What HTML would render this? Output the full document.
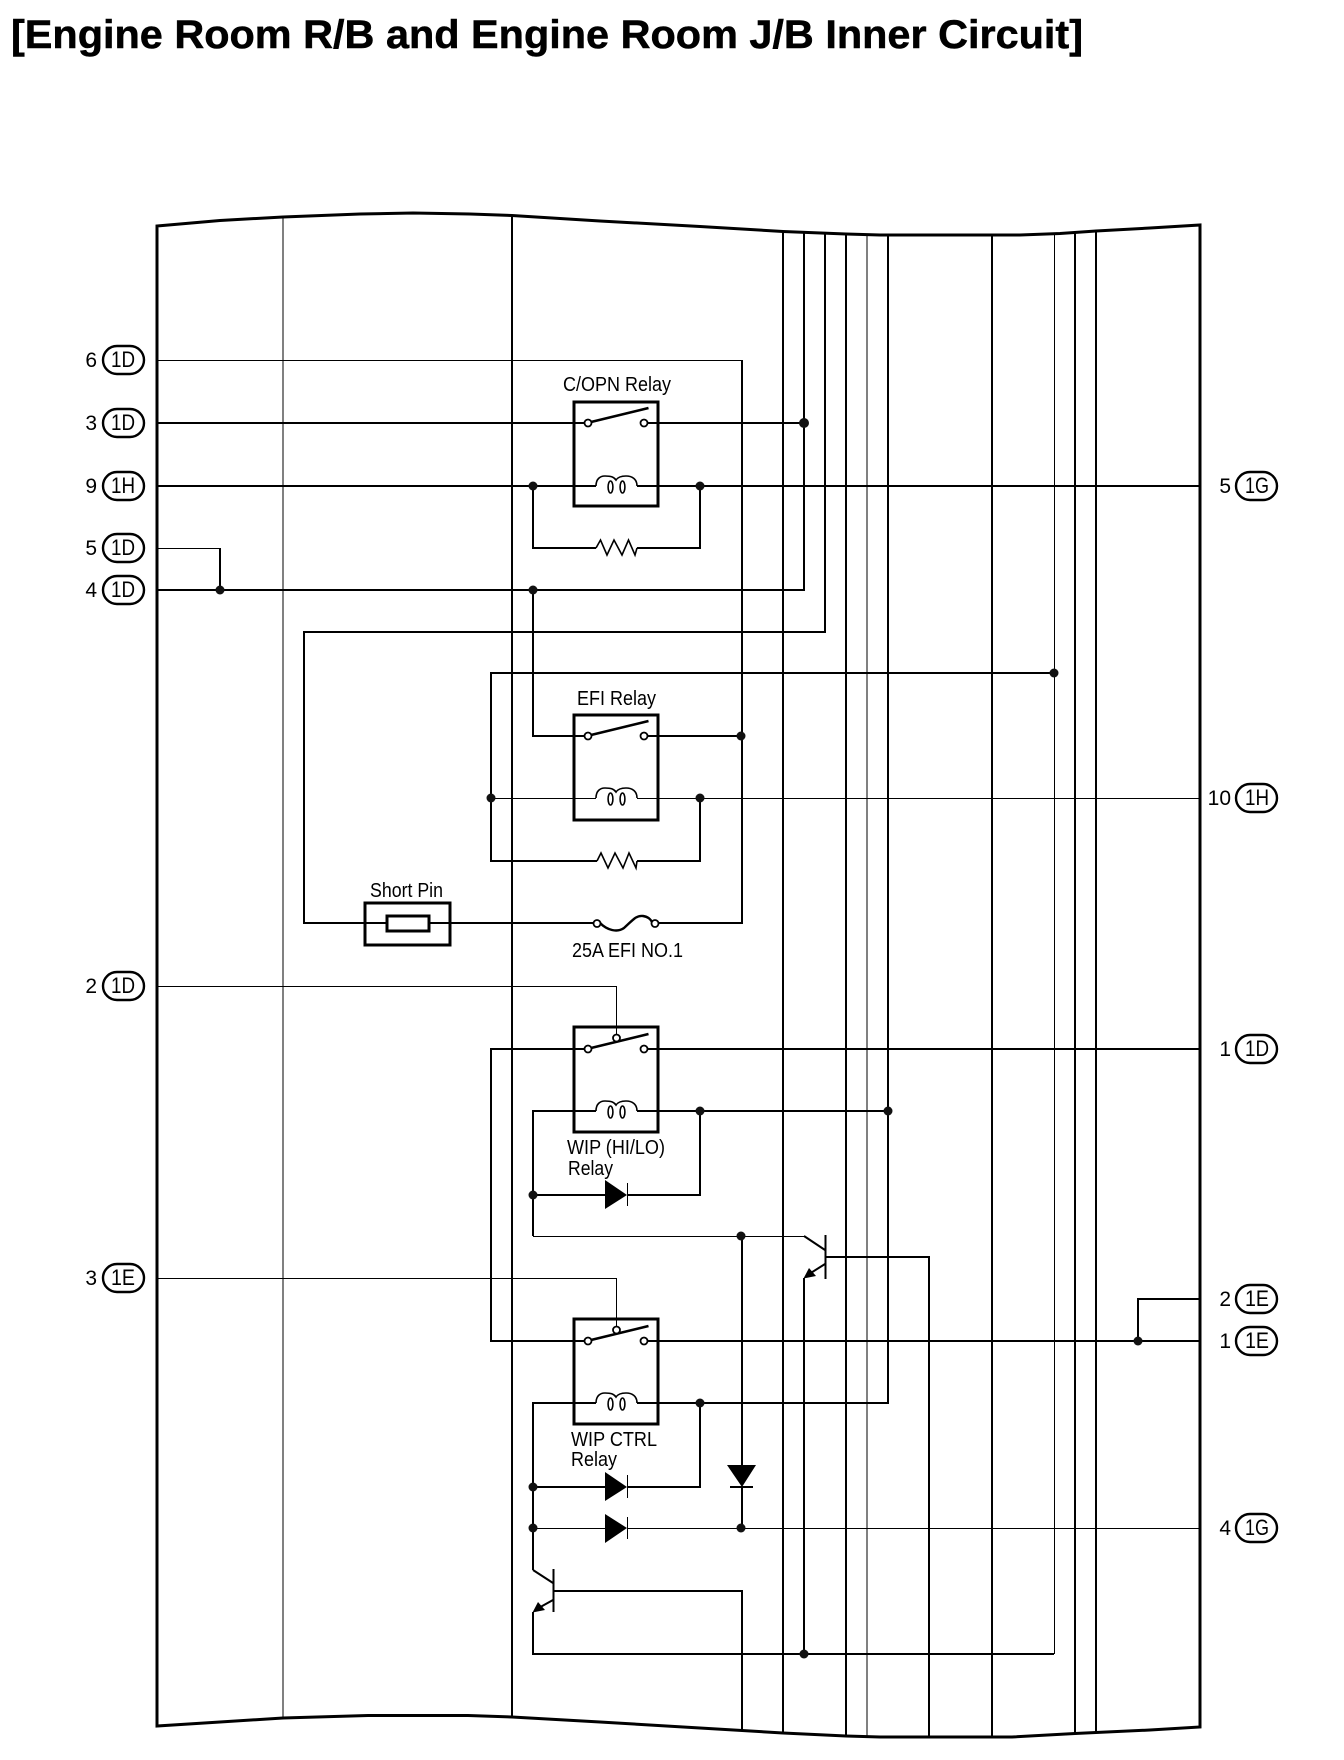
<!DOCTYPE html>
<html lang="en">
<head>
<meta charset="utf-8">
<title>Engine Room R/B and Engine Room J/B Inner Circuit</title>
<style>
html,body{margin:0;padding:0;background:#fff;width:1344px;height:1760px;overflow:hidden}
svg{display:block}
text{font-family:"Liberation Sans",sans-serif;fill:#000}
.w{fill:none;stroke:#000;stroke-width:2;shape-rendering:crispEdges}
.t{fill:none;stroke:#000;stroke-width:1;shape-rendering:crispEdges}
.b{fill:none;stroke:#000;stroke-width:3}
.r{fill:#fff;stroke:#000;stroke-width:3.2;shape-rendering:crispEdges}
.c{fill:#fff;stroke:#000;stroke-width:1.8}
.n{fill:#111;stroke:none}
.s{fill:none;stroke:#000;stroke-width:1.6}
.p{fill:#fff;stroke:#000;stroke-width:2.4}
.a{fill:none;stroke:#000;stroke-width:2.6}
.f{fill:#000;stroke:none}
.lb{font-size:20px}
.d{font-size:21px}
text[textLength="24"]{font-size:22px}
</style>
</head>
<body>
<svg width="1344" height="1760" viewBox="0 0 1344 1760" xmlns="http://www.w3.org/2000/svg">
<rect width="1344" height="1760" fill="#fff"/>
<text x="11" y="48" font-size="40" font-weight="700" stroke="#000" stroke-width="0.5" textLength="1072" lengthAdjust="spacingAndGlyphs" style="letter-spacing:0">[Engine Room R/B and Engine Room J/B Inner Circuit]</text>

<!-- frame -->
<path class="b" d="M157 1726 L157 226 L220 220.500 L283 217 L360 214 L413 213 L470 214 L512 215.500 L600 221 L700 226.500 L783 231.500 L846 234 L880 235 L1020 235 L1060 233.500 L1096 231 L1150 228 L1200 225 L1200 1727 L1150 1730 L1096 1732.500 L1075 1733.500 L1012 1737 L880 1737 L846 1736 L783 1733 L700 1728 L600 1722 L512 1717 L468 1715.500 L368 1715.500 L283 1718 L220 1722 Z"/>

<!-- vertical bus lines -->
<path class="t" d="M283 217V1718"/>
<path class="w" d="M512 215V1717"/>
<path class="w" d="M783 231V1733"/>
<path class="w" d="M804 232V590H157"/>
<path class="w" d="M825 233V632H304V923H387"/>
<path class="w" d="M846 234V1736"/>
<path class="t" d="M867 235V1737"/>
<path class="w" d="M888 235V1403H637"/>
<path class="w" d="M992 235V1737"/>
<path class="t" d="M1054.500 235V1654"/>
<path class="w" d="M1075 233V1733"/>
<path class="w" d="M1096 231V1732"/>

<!-- signal wires -->
<path class="t" d="M157 360.500H742"/>
<path class="w" d="M742 360V923H658"/>
<path class="w" d="M157 423H585M648 423H804"/>
<path class="w" d="M157 486H596M637 486H1200"/>
<path class="w" d="M533 486V548H596M637 548H700V486"/>
<path class="t" d="M157 548.500H220"/>
<path class="w" d="M220 548V590"/>
<path class="w" d="M533 590V736H585M648 736H742"/>
<path class="w" d="M1054 673H491V861H597M637 861H700V798"/>
<path class="t" d="M491 798.500H596M637 798.500H1200"/>
<path class="w" d="M429 923H594"/>
<path class="t" d="M157 986.500H616.500V1034"/>
<path class="w" d="M585 1049H491V1341H585M648 1049H1200M648 1341H1200"/>
<path class="w" d="M596 1111H533V1236"/>
<path class="w" d="M637 1111H888"/>
<path class="w" d="M700 1111V1195H627M533 1195H605"/>
<path class="t" d="M533 1236.500H804"/>
<path class="w" d="M742 1236V1465"/>
<path class="w" d="M826 1257H929V1737"/>
<path class="w" d="M804 1278V1654"/>
<path class="t" d="M157 1278.500H616.500V1326"/>
<path class="w" d="M1138 1341V1299H1200"/>
<path class="w" d="M596 1403H533V1570"/>
<path class="w" d="M637 1403H700V1487H627M533 1487H605"/>
<path class="t" d="M533 1528.500H605M627 1528.500H1200"/>
<path class="w" d="M742 1487V1528"/>
<path class="w" d="M554 1591H742V1731"/>
<path class="w" d="M533 1612V1654H1054"/>

<!-- relay 1 C/OPN -->
<rect class="r" x="574" y="402" width="84" height="104" style="fill:none"/>
<line class="a" x1="591" y1="422" x2="648.500" y2="408"/>
<circle class="c" cx="588" cy="423" r="3.500"/><circle class="c" cx="644" cy="423" r="3.500"/>
<path class="s" d="M596 486C596 479 600 476 605 476C611 476 614 477 616 480C618 477 621 476 626 476C632 476 637 479 637 486"/>
<ellipse class="s" cx="610.500" cy="487" rx="2.400" ry="6" fill="#fff"/><ellipse class="s" cx="622.500" cy="487" rx="2.400" ry="6" fill="#fff"/>
<path class="s" d="M596 548L600.500 540L607 555L614 540L622 555L628.500 540L635 555L637 548"/>

<!-- relay 2 EFI -->
<rect class="r" x="574" y="715" width="84" height="105" style="fill:none"/>
<line class="a" x1="591" y1="735" x2="648.500" y2="721"/>
<circle class="c" cx="588" cy="736" r="3.500"/><circle class="c" cx="644" cy="736" r="3.500"/>
<path class="s" d="M596 798C596 791 600 788 605 788C611 788 614 789 616 792C618 789 621 788 626 788C632 788 637 791 637 798"/>
<ellipse class="s" cx="610.500" cy="799" rx="2.400" ry="6" fill="#fff"/><ellipse class="s" cx="622.500" cy="799" rx="2.400" ry="6" fill="#fff"/>
<path class="s" d="M597 861L601 853L608 868L615 853L623 868L629 853L636 868L637 861"/>

<!-- short pin and fuse -->
<rect class="r" x="365" y="903" width="85" height="42" style="fill:none"/>
<rect class="w" x="387" y="916" width="42" height="15" style="fill:#fff;stroke-width:3"/>
<path d="M600 923C607 930 617 933 624 928C632 921 636 915 643 916C650 917 651 921 653 923" fill="none" stroke="#000" stroke-width="2.400"/>
<circle class="c" cx="597" cy="923.500" r="3.500"/><circle class="c" cx="655" cy="923.500" r="3.500"/>

<!-- relay 3 WIP HI/LO -->
<rect class="r" x="574" y="1027" width="84" height="105" style="fill:none"/>
<line class="a" x1="591" y1="1048" x2="648.500" y2="1034"/>
<circle class="c" cx="588" cy="1049" r="3.500"/><circle class="c" cx="644" cy="1049" r="3.500"/><circle class="c" cx="616.500" cy="1038" r="3.500"/>
<path class="s" d="M596 1111C596 1104 600 1101 605 1101C611 1101 614 1102 616 1105C618 1102 621 1101 626 1101C632 1101 637 1104 637 1111"/>
<ellipse class="s" cx="610.500" cy="1112" rx="2.400" ry="6" fill="#fff"/><ellipse class="s" cx="622.500" cy="1112" rx="2.400" ry="6" fill="#fff"/>
<polygon class="f" points="605,1180 627,1195 605,1209"/><path class="t" d="M627.500 1183V1206"/>

<!-- relay 4 WIP CTRL -->
<rect class="r" x="574" y="1319" width="84" height="105" style="fill:none"/>
<line class="a" x1="591" y1="1340" x2="648.500" y2="1326"/>
<circle class="c" cx="588" cy="1341" r="3.500"/><circle class="c" cx="644" cy="1341" r="3.500"/><circle class="c" cx="616.500" cy="1330" r="3.500"/>
<path class="s" d="M596 1403C596 1396 600 1393 605 1393C611 1393 614 1394 616 1397C618 1394 621 1393 626 1393C632 1393 637 1396 637 1403"/>
<ellipse class="s" cx="610.500" cy="1404" rx="2.400" ry="6" fill="#fff"/><ellipse class="s" cx="622.500" cy="1404" rx="2.400" ry="6" fill="#fff"/>
<polygon class="f" points="605,1472 627,1487 605,1501"/><path class="t" d="M627.500 1475V1498"/>
<polygon class="f" points="605,1514 627,1528 605,1543"/><path class="t" d="M627.500 1517V1539"/>
<polygon class="f" points="727,1465 756,1465 742,1487"/><path class="w" d="M730 1487H753"/>

<!-- transistors -->
<path class="w" d="M825.500 1235V1279"/>
<path d="M804 1236L825 1250M825 1264L806 1276" fill="none" stroke="#000" stroke-width="2"/>
<polygon class="f" points="803.500,1278.500 809,1268 816,1276"/>
<path class="w" d="M553.500 1569V1612"/>
<path d="M533 1570L553 1583M553 1600L535 1610" fill="none" stroke="#000" stroke-width="2"/>
<polygon class="f" points="532.500,1612.500 538,1602 545,1610"/>

<!-- junction nodes -->
<circle class="n" cx="804" cy="423" r="5"/>
<circle class="n" cx="533" cy="486" r="4.500"/><circle class="n" cx="700" cy="486" r="4.500"/>
<circle class="n" cx="220" cy="590" r="4.500"/><circle class="n" cx="533" cy="590" r="4.500"/>
<circle class="n" cx="1054" cy="673" r="4.500"/>
<circle class="n" cx="741" cy="736" r="4.500"/>
<circle class="n" cx="491" cy="798" r="4.500"/><circle class="n" cx="700" cy="798" r="4.500"/>
<circle class="n" cx="700" cy="1111" r="4.500"/><circle class="n" cx="888" cy="1111" r="4.500"/>
<circle class="n" cx="533" cy="1195" r="4.500"/>
<circle class="n" cx="741" cy="1236" r="4.500"/>
<circle class="n" cx="1138" cy="1341" r="4.500"/>
<circle class="n" cx="700" cy="1403" r="4.500"/>
<circle class="n" cx="533" cy="1487" r="4.500"/>
<circle class="n" cx="533" cy="1528" r="4.500"/><circle class="n" cx="741" cy="1528" r="4.500"/>
<circle class="n" cx="804" cy="1654" r="4.500"/>

<!-- component labels -->
<text class="lb" x="563" y="391" textLength="108" lengthAdjust="spacingAndGlyphs">C/OPN Relay</text>
<text class="lb" x="577" y="705" textLength="79" lengthAdjust="spacingAndGlyphs">EFI Relay</text>
<text class="lb" x="370" y="897" textLength="73" lengthAdjust="spacingAndGlyphs">Short Pin</text>
<text class="lb" x="572" y="957" textLength="111" lengthAdjust="spacingAndGlyphs">25A EFI NO.1</text>
<text class="lb" x="567" y="1154" textLength="98" lengthAdjust="spacingAndGlyphs">WIP (HI/LO)</text>
<text class="lb" x="568" y="1175" textLength="45" lengthAdjust="spacingAndGlyphs">Relay</text>
<text class="lb" x="571" y="1446" textLength="86" lengthAdjust="spacingAndGlyphs">WIP CTRL</text>
<text class="lb" x="571" y="1466" textLength="46" lengthAdjust="spacingAndGlyphs">Relay</text>

<!-- left connectors -->
<g>
<rect class="p" x="103" y="346" width="41" height="28" rx="14"/><text class="d" x="97" y="367" text-anchor="end">6</text><text class="d" x="111" y="367" textLength="24" lengthAdjust="spacingAndGlyphs">1D</text>
<rect class="p" x="103" y="409" width="41" height="28" rx="14"/><text class="d" x="97" y="430" text-anchor="end">3</text><text class="d" x="111" y="430" textLength="24" lengthAdjust="spacingAndGlyphs">1D</text>
<rect class="p" x="103" y="472" width="41" height="28" rx="14"/><text class="d" x="97" y="493" text-anchor="end">9</text><text class="d" x="111" y="493" textLength="24" lengthAdjust="spacingAndGlyphs">1H</text>
<rect class="p" x="103" y="534" width="41" height="28" rx="14"/><text class="d" x="97" y="555" text-anchor="end">5</text><text class="d" x="111" y="555" textLength="24" lengthAdjust="spacingAndGlyphs">1D</text>
<rect class="p" x="103" y="576" width="41" height="28" rx="14"/><text class="d" x="97" y="597" text-anchor="end">4</text><text class="d" x="111" y="597" textLength="24" lengthAdjust="spacingAndGlyphs">1D</text>
<rect class="p" x="103" y="972" width="41" height="28" rx="14"/><text class="d" x="97" y="993" text-anchor="end">2</text><text class="d" x="111" y="993" textLength="24" lengthAdjust="spacingAndGlyphs">1D</text>
<rect class="p" x="103" y="1264" width="41" height="28" rx="14"/><text class="d" x="97" y="1285" text-anchor="end">3</text><text class="d" x="111" y="1285" textLength="24" lengthAdjust="spacingAndGlyphs">1E</text>
</g>
<!-- right connectors -->
<g>
<rect class="p" x="1236" y="472" width="41" height="28" rx="14"/><text class="d" x="1231" y="493" text-anchor="end">5</text><text class="d" x="1245" y="493" textLength="24" lengthAdjust="spacingAndGlyphs">1G</text>
<rect class="p" x="1236" y="784" width="41" height="28" rx="14"/><text class="d" x="1231" y="805" text-anchor="end">10</text><text class="d" x="1245" y="805" textLength="24" lengthAdjust="spacingAndGlyphs">1H</text>
<rect class="p" x="1236" y="1035" width="41" height="28" rx="14"/><text class="d" x="1231" y="1056" text-anchor="end">1</text><text class="d" x="1245" y="1056" textLength="24" lengthAdjust="spacingAndGlyphs">1D</text>
<rect class="p" x="1236" y="1285" width="41" height="28" rx="14"/><text class="d" x="1231" y="1306" text-anchor="end">2</text><text class="d" x="1245" y="1306" textLength="24" lengthAdjust="spacingAndGlyphs">1E</text>
<rect class="p" x="1236" y="1327" width="41" height="28" rx="14"/><text class="d" x="1231" y="1348" text-anchor="end">1</text><text class="d" x="1245" y="1348" textLength="24" lengthAdjust="spacingAndGlyphs">1E</text>
<rect class="p" x="1236" y="1514" width="41" height="28" rx="14"/><text class="d" x="1231" y="1535" text-anchor="end">4</text><text class="d" x="1245" y="1535" textLength="24" lengthAdjust="spacingAndGlyphs">1G</text>
</g>
</svg>
</body>
</html>
